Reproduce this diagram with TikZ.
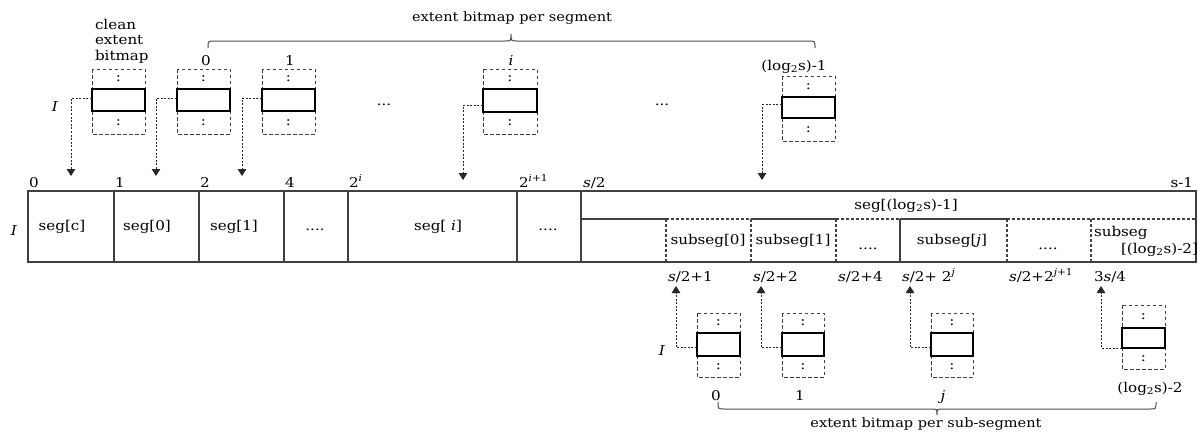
\documentclass[tikz,border=0pt]{standalone}
\usepackage{fontspec}
\setmainfont{DejaVu Serif}[FakeStretch=1.12]
\usetikzlibrary{arrows.meta,calc,fit}

\tikzset{
  every node/.style={font=\fontsize{13.5}{15}\selectfont, inner sep=0pt, outer sep=0pt},
  small/.style={font=\fontsize{13}{14}\selectfont},
  grid/.style={line width=1.1pt, draw=black!75},
  gridd/.style={grid, dash pattern=on 3pt off 2pt},
  bmframe/.style={draw=black!75, line width=0.9pt, dash pattern=on 3.5pt off 2.5pt},
  bmcell/.style={draw=black, line width=1.8pt, inner sep=0pt},
  conn/.style={draw=black!85, line width=1pt, dash pattern=on 2pt off 1.6pt,
    -{Triangle[width=8.5pt,length=7pt]}},
  brace/.style={draw=black!70, line width=1pt},
}

% bitmap: name, left x, right x, frame top, cell top, cell bottom, frame bottom
\newcommand\bitmapbox[7]{%
  \draw[bmframe] (#2,#4) rectangle (#3,#7);
  \coordinate (#1-nw) at (#2,#5);
  \coordinate (#1-se) at (#3,#6);
  \node[bmcell, fit=(#1-nw)(#1-se)] (#1) {};
  \node (#1-u) at ({(#2+#3)/2},{(#4+#5)/2}) {:};
  \node (#1-d) at ({(#2+#3)/2},{(#6+#7)/2}) {:};
}

\begin{document}
\begin{tikzpicture}[x=1pt,y=-1pt]
\useasboundingbox (0,0) rectangle (1198,432);
\fill[white] (0,0) rectangle (1198,432);

% ---------- per-segment bitmaps ----------
\draw[brace] (208,48) .. controls (208,41) .. (214,41) -- (505,41)
  .. controls (511,41) .. (511,34) .. controls (511,41) .. (517,41)
  -- (809,41) .. controls (815,41) .. (815,48);
\node[small, anchor=base] (tbrace) at (512,21) {extent bitmap per segment};

\node[anchor=north west, align=left, font=\fontsize{13.5}{15.5}\selectfont] (cleanlbl) at (95,19) {clean\\extent\\bitmap};

\bitmapbox{clean}{92}{145}{69}{89}{111}{134}
\bitmapbox{b0}{177}{230}{69}{89}{111}{134}
\bitmapbox{b1}{262}{315}{69}{89}{111}{134}
\bitmapbox{bi}{483}{537}{69}{89}{112}{134}
\bitmapbox{bl}{782}{835}{76}{97}{118}{141}

\node[anchor=base] (l0) at (206,65.5) {0};
\node[anchor=base] (l1) at (290,65.5) {1};
\node[anchor=base] (li) at (511,65.5) {\textit{i}};
\node[anchor=base] (llast) at (794,70) {(log\textsubscript{2}s)-1};
\node[anchor=base] (Itop) at (55,111) {\textit{I}};
\node[anchor=base] (dd1) at (384,105) {...};
\node[anchor=base] (dd2) at (662,105) {...};

\coordinate (tclean) at (71,176);
\coordinate (tb0) at (156,176);
\coordinate (tb1) at (242,176);
\coordinate (tbi) at (463,180);
\coordinate (tbl) at (762,180);
\draw[conn] ($(clean.north west)!.41!(clean.south west)$) -| (tclean);
\draw[conn] ($(b0.north west)!.41!(b0.south west)$) -| (tb0);
\draw[conn] ($(b1.north west)!.41!(b1.south west)$) -| (tb1);
\draw[conn] ($(bi.north west)!.7!(bi.south west)$) -| (tbi);
\draw[conn] ($(bl.north west)!.38!(bl.south west)$) -| (tbl);

% ---------- the extent array ----------
\draw[grid] (28,191) rectangle (1196,262);
\foreach \x in {114,199,284,348,517,581}
  \draw[grid] (\x,191) -- (\x,262);
\draw[grid] (581,219) -- (666,219) (751,219) -- (836,219) (900,219) -- (1007,219);
\draw[gridd] (666,219) -- (751,219) (836,219) -- (900,219) (1007,219) -- (1196,219);
\foreach \x in {666,751,836,1007,1091}
  \draw[gridd] (\x,219) -- (\x,262);
\draw[grid] (900,219) -- (900,262);

\node[anchor=base west] (p0) at (29,187) {0};
\node[anchor=base west] (p1) at (115,187) {1};
\node[anchor=base west] (p2) at (200,187) {2};
\node[anchor=base west] (p4) at (285,187) {4};
\node[anchor=base west] (p2i) at (349,187) {2\textsuperscript{\textit{i}}};
\node[anchor=base west] (p2i1) at (519,187) {2\textsuperscript{\textit{i}+1}};
\node[anchor=base west] (ps2) at (583,187) {\textit{s}/2};
\node[anchor=base east] (ps1) at (1193,187) {s-1};

\node[anchor=base] (Imid) at (14,235) {\textit{I}};
\node[anchor=base] (sc) at (62,230) {seg[c]};
\node[anchor=base] (s0) at (147,230) {seg[0]};
\node[anchor=base] (s1) at (234,230) {seg[1]};
\node[anchor=base] (sd1) at (315,230) {....};
\node[anchor=base] (si) at (438,230) {seg[ \textit{i}]};
\node[anchor=base] (sd2) at (548,230) {....};
\node[anchor=base] (slast) at (906,209) {seg[(log\textsubscript{2}s)-1]};

\node[anchor=base] (ss0) at (708,244) {subseg[0]};
\node[anchor=base] (ss1) at (793,244) {subseg[1]};
\node[anchor=base] (ssd1) at (868,249) {....};
\node[anchor=base] (ssj) at (952,244) {subseg[\textit{j}]};
\node[anchor=base] (ssd2) at (1048,249) {....};
\node[anchor=base west] (sslast) at (1094,236) {subseg};
\node[anchor=base east] (sslast2) at (1198,253) {[(log\textsubscript{2}s)-2]};

\node[anchor=base west] (q1) at (668,281) {\textit{s}/2+1};
\node[anchor=base west] (q2) at (753,281) {\textit{s}/2+2};
\node[anchor=base west] (q4) at (838,281) {\textit{s}/2+4};
\node[anchor=base west] (qj) at (902,281) {\textit{s}/2+ 2\textsuperscript{\textit{j}}};
\node[anchor=base west] (qj1) at (1009,281) {\textit{s}/2+2\textsuperscript{\textit{j}+1}};
\node[anchor=base west] (q34) at (1094,281) {3\textit{s}/4};

% ---------- per-sub-segment bitmaps ----------
\bitmapbox{u0}{697}{740}{313}{333}{356}{377}
\bitmapbox{u1}{782}{824}{313}{333}{356}{377}
\bitmapbox{uj}{931}{973}{313}{333}{356}{377}
\bitmapbox{ul}{1122}{1165}{305}{328}{348}{369}

\node[anchor=base] (Ibot) at (662,355) {\textit{I}};
\node[anchor=base] (m0) at (716,400.5) {0};
\node[anchor=base] (m1) at (800,400.5) {1};
\node[anchor=base] (mj) at (943,400.5) {\textit{j}};
\node[anchor=base] (ml) at (1150,392) {(log\textsubscript{2}s)-2};

\coordinate (tu0) at (676,286);
\coordinate (tu1) at (761,286);
\coordinate (tuj) at (910,286);
\coordinate (tul) at (1101,286);
\draw[conn] ($(u0.north west)!.65!(u0.south west)$) -| (tu0);
\draw[conn] ($(u1.north west)!.65!(u1.south west)$) -| (tu1);
\draw[conn] ($(uj.north west)!.65!(uj.south west)$) -| (tuj);
\draw[conn] (ul.south west) -| (tul);

\draw[brace] (718,402) .. controls (718,409) .. (724,409) -- (931,409)
  .. controls (937,409) .. (937,415) .. controls (937,409) .. (943,409)
  -- (1150,409) .. controls (1156,409) .. (1156,402);
\node[small, anchor=base] (bbrace) at (926,427) {extent bitmap per sub-segment};
\end{tikzpicture}
\end{document}
